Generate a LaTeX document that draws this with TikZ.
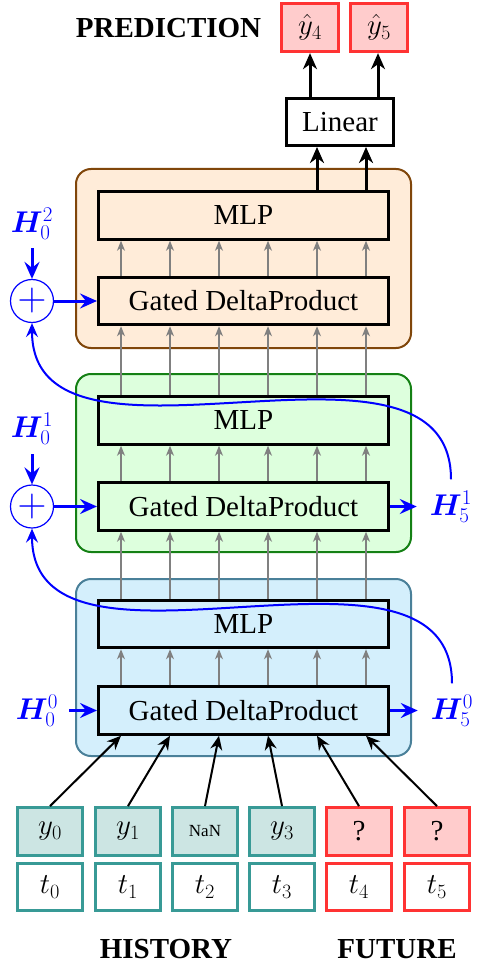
\RequirePackage{fix-cm}
\documentclass[tikz,border=0pt]{standalone}
\usepackage[no-math]{fontspec}
\setmainfont{Liberation Serif}
\usepackage{amsmath}
\usepackage{bm}
\usetikzlibrary{arrows.meta,calc}
\definecolor{tealb}{RGB}{56,154,150}
\definecolor{tealf}{RGB}{204,229,227}
\definecolor{redb}{RGB}{255,51,51}
\definecolor{redf}{RGB}{255,204,204}
\definecolor{orf}{RGB}{255,236,217}
\definecolor{orb}{RGB}{128,70,10}
\definecolor{grf}{RGB}{221,255,221}
\definecolor{grb}{RGB}{20,128,20}
\definecolor{blf}{RGB}{212,239,252}
\definecolor{blb}{RGB}{74,128,153}
\definecolor{pblue}{RGB}{0,0,255}
\begin{document}
\begin{tikzpicture}[x=1pt,y=-1pt,
  big/.style={font=\fontsize{29}{34}\selectfont},
  blk/.style={draw=black, line width=3pt, minimum width=290pt, minimum height=47.5pt, inner sep=0pt, big},
  layerbox/.style={rounded corners=15pt, line width=2pt, minimum width=335pt, inner sep=0pt},
  tok/.style={line width=3.3pt, minimum width=64.7pt, minimum height=47.5pt, inner sep=0pt, big},
  hist/.style={tok, draw=tealb, fill=tealf},
  fut/.style={tok, draw=redb, fill=redf},
  histt/.style={tok, draw=tealb, fill=white},
  futt/.style={tok, draw=redb, fill=white},
  lbl/.style={font=\fontsize{30}{35}\selectfont, inner sep=2pt, text=pblue},
  head/.style={big, font=\fontsize{29}{34}\selectfont\bfseries, inner sep=0pt},
  grayarrow/.style={draw=gray, line width=1.2pt, -{Stealth[length=10pt,width=8pt,inset=3pt]}},
  tokarrow/.style={draw=black, line width=2pt, -{Stealth[length=14pt,width=12pt,inset=4.5pt]}},
  thickarrow/.style={draw=black, line width=3pt, -{Stealth[length=16pt,width=14pt,inset=5pt]}},
  bluearrow/.style={draw=pblue, line width=3pt, -{Stealth[length=17pt,width=15pt,inset=6pt]}},
  bluecurve/.style={draw=pblue, line width=2pt, -{Stealth[length=14pt,width=12pt,inset=5pt]}},
  plusnode/.style={circle, draw=pblue, line width=1.2pt, minimum size=43pt, inner sep=0pt, text=pblue, font=\fontsize{40}{46}\selectfont}
]
\useasboundingbox (0,0) rectangle (485,965);

% layer boxes
\node[layerbox, draw=orb, fill=orf, minimum height=179pt] (L2) at (243.5,258.5) {};
\node[layerbox, draw=grb, fill=grf, minimum height=178pt] (L1) at (243.5,463) {};
\node[layerbox, draw=blb, fill=blf, minimum height=177pt] (L0) at (243.5,667.5) {};

% blocks
\node[blk] (M2) at (243.5,215.5) {MLP};
\node[blk] (G2) at (243.5,301) {Gated DeltaProduct};
\node[blk] (M1) at (243.5,420.5) {MLP};
\node[blk] (G1) at (243.5,506.5) {Gated DeltaProduct};
\node[blk] (M0) at (243.5,624) {MLP};
\node[blk] (G0) at (243.5,710.5) {Gated DeltaProduct};

% linear and predictions
\node[draw=black, line width=3pt, minimum width=107pt, minimum height=47pt, inner sep=0pt, big] (Lin) at (340,122) {Linear};
\node[fut, minimum width=57pt, minimum height=48pt] (P4) at (310,27.5) {$\hat{y}_4$};
\node[fut, minimum width=57pt, minimum height=48pt] (P5) at (379,27.5) {$\hat{y}_5$};
\node[head] (pred) at (168.5,28) {PREDICTION};

% gray arrows
\foreach \dx in {-122.5,-73.5,-24.5,24.5,73.5,122.5} {
  \draw[grayarrow] ([xshift=\dx pt]G0.north) -- ([xshift=\dx pt]M0.south);
  \draw[grayarrow] ([xshift=\dx pt]M0.north) -- ([xshift=\dx pt]G1.south);
  \draw[grayarrow] ([xshift=\dx pt]G1.north) -- ([xshift=\dx pt]M1.south);
  \draw[grayarrow] ([xshift=\dx pt]M1.north) -- ([xshift=\dx pt]G2.south);
  \draw[grayarrow] ([xshift=\dx pt]G2.north) -- ([xshift=\dx pt]M2.south);
}

% MLP -> Linear -> predictions
\draw[thickarrow] ([xshift=73.5pt]M2.north) -- ([xshift=73.5pt]M2.north |- Lin.south);
\draw[thickarrow] ([xshift=122.5pt]M2.north) -- ([xshift=122.5pt]M2.north |- Lin.south);
\draw[thickarrow] (P4.south |- Lin.north) -- (P4.south);
\draw[thickarrow] ([xshift=-1pt]P5.south |- Lin.north) -- ([xshift=-1pt]P5.south);

% tokens
\node[hist] (y0) at (50,831.5) {$y_0$};
\node[hist] (y1) at (128,831.5) {$y_1$};
\node[hist, font=\fontsize{17}{20}\selectfont] (y2) at (205,831.5) {NaN};
\node[hist] (y3) at (282,831.5) {$y_3$};
\node[fut] (y4) at (359,831.5) {?};
\node[fut] (y5) at (437,831.5) {?};
\node[histt] (t0) at (50,887) {$t_0$};
\node[histt] (t1) at (128,887) {$t_1$};
\node[histt] (t2) at (205,887) {$t_2$};
\node[histt] (t3) at (282,887) {$t_3$};
\node[futt] (t4) at (359,887) {$t_4$};
\node[futt] (t5) at (437,887) {$t_5$};
\node[head] (hist) at (166,949) {HISTORY};
\node[head] (futu) at (397,949) {FUTURE};

\foreach \i/\dx in {0/-122.5,1/-73.5,2/-24.5,3/24.5,4/73.5,5/122.5}
  \draw[tokarrow] (y\i.north) -- ([xshift=\dx pt]G0.south);

% blue state stuff
\node[lbl] (H02) at (32,224) {$\boldsymbol{H}_0^2$};
\node[plusnode] (c2) at (32,301) {$+$};
\node[lbl] (H01) at (32,429) {$\boldsymbol{H}_0^1$};
\node[plusnode] (c1) at (32,506.5) {$+$};
\node[lbl] (H00) at (37,710.5) {$\boldsymbol{H}_0^0$};
\node[lbl] (H51) at (451,506.5) {$\boldsymbol{H}_5^1$};
\node[lbl] (H50) at (452,710.5) {$\boldsymbol{H}_5^0$};

\draw[bluearrow, shorten <=6pt] (H02.south) -- (c2.north);
\draw[bluearrow, shorten <=7pt] (H01.south) -- (c1.north);
\draw[bluearrow] (c2.east) -- (G2.west);
\draw[bluearrow] (c1.east) -- (G1.west);
\draw[bluearrow, shorten <=9pt] (H00.east) -- (G0.west);
\draw[bluearrow, shorten >=11pt] (G1.east) -- (H51.west);
\draw[bluearrow, shorten >=11pt] (G0.east) -- (H50.west);

\draw[bluecurve] ([yshift=9pt]H51.north) .. controls +(0,-176) and +(0,176) .. (c2.south);
\draw[bluecurve] ([yshift=9pt]H50.north) .. controls +(0,-176) and +(0,176) .. (c1.south);
\end{tikzpicture}
\end{document}
